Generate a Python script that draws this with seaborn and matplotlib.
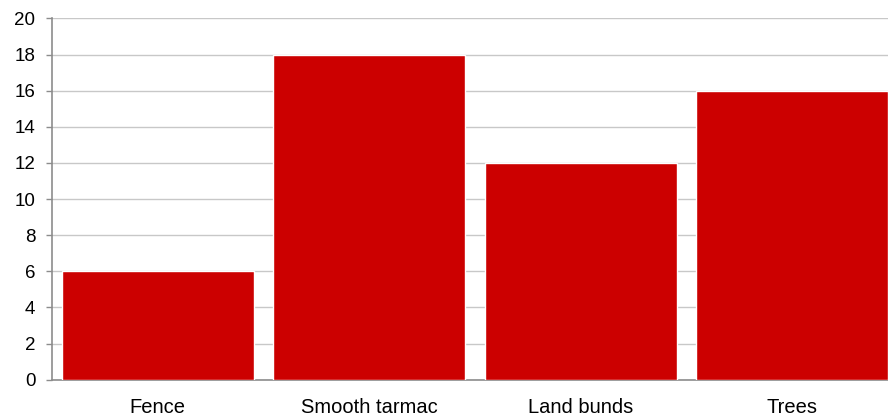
import matplotlib
matplotlib.use("Agg")
import matplotlib.pyplot as plt
import seaborn as sns
import pandas as pd

# --- data ---
categories = ['Fence', 'Smooth tarmac', 'Land bunds', 'Trees']
values = [6, 18, 12, 16]

df = pd.DataFrame({'category': categories, 'value': values})

sns.set_style('white')
plt.rcParams['font.family'] = ['Liberation Sans', 'DejaVu Sans']

fig = plt.figure(figsize=(8.88, 4.18), dpi=100)
# plot area runs a little past the right edge, like the source crop
ax = fig.add_axes([52 / 888, (418 - 379.7) / 418, 846 / 888, (379.7 - 18.5) / 418])

sns.barplot(data=df, x='category', y='value', color='#CC0000',
            saturation=1, width=0.91, ax=ax, zorder=3)

ax.set_ylim(0, 20)
ax.set_xlim(-0.5, 3.5)
ax.set_yticks(range(0, 21, 2))
ax.grid(axis='y', color='#C8C8C8', linewidth=1, zorder=0)
ax.set_axisbelow(True)

for s in ['top', 'right']:
    ax.spines[s].set_visible(False)
for s in ['left', 'bottom']:
    ax.spines[s].set_color('#8C8C8C')
    ax.spines[s].set_linewidth(1.2)

ax.set_xticks([0.5, 1.5, 2.5], minor=True)
ax.tick_params(axis='x', which='major', length=0, pad=13, labelsize=14.5, colors='black')
ax.tick_params(axis='x', which='minor', length=4, width=1, color='#8C8C8C', direction='out')
ax.tick_params(axis='y', length=4, width=1, color='#8C8C8C', direction='out', pad=8,
               labelsize=13.5, labelcolor='black', left=True)

ax.set_xlabel('')
ax.set_ylabel('')

fig.savefig('out.png', dpi=100)
